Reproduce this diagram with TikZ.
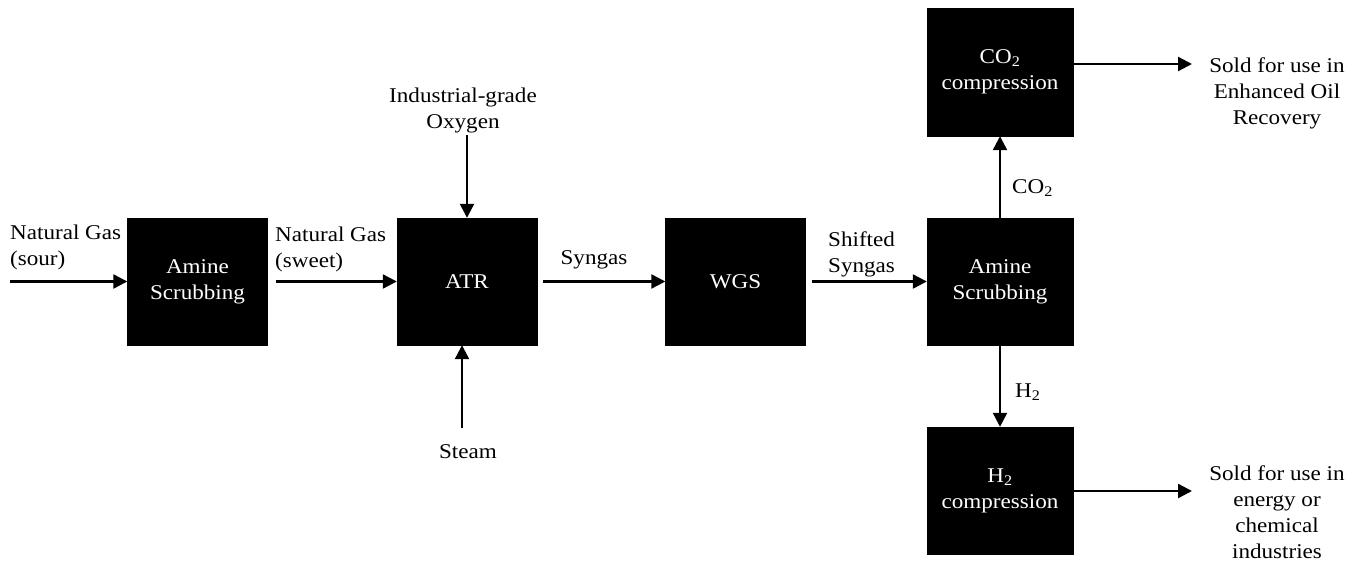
\documentclass[tikz,border=0pt]{standalone}
\usepackage{fontspec}
\setmainfont{Liberation Serif}[FakeStretch=1.1]
\usetikzlibrary{arrows.meta}

\tikzset{
  unit/.style={rectangle, fill=black, draw=black, text=white, align=center,
    minimum width=140pt, minimum height=127pt, inner sep=0pt},
  flow/.style={line width=2.3pt, -{Triangle[length=14pt,width=14pt]}},
  lbl/.style={inner sep=0pt},
}

\begin{document}
\begin{tikzpicture}[x=1pt, y=-1pt, font=\fontsize{21}{26}\selectfont]
  \useasboundingbox (0,0) rectangle (1371,562);

  \node[unit] (amineA) at (197.5, 281.5) {Amine\\Scrubbing};
  \node[unit] (atr) at (467, 281.5) {ATR};
  \node[unit] (wgs) at (735.5, 281.5) {WGS};
  \node[unit, minimum width=146pt] (amineB) at (1000, 281.5) {Amine\\Scrubbing};
  \node[unit, minimum width=146pt, minimum height=128pt] (cocomp) at (1000, 72) {CO\textsubscript{2}\\compression};
  \node[unit, minimum width=146pt] (hcomp) at (1000, 490.5) {H\textsubscript{2}\\compression};

  \node[lbl, align=left, anchor=south west] (sour) at (10, 270) {Natural Gas\\(sour)};
  \node[lbl, align=left, anchor=south west] (sweet) at (275, 272) {Natural Gas\\(sweet)};
  \node[lbl, anchor=base] (syngas) at (594, 264) {Syngas};
  \node[lbl, align=left, anchor=south west] (shifted) at (828, 277) {Shifted\\Syngas};
  \node[lbl, align=center, anchor=south] (oxygen) at (463, 133) {Industrial-grade\\Oxygen};
  \node[lbl, anchor=base] (steam) at (468, 458) {Steam};
  \node[lbl, anchor=base west] (co) at (1012, 193) {CO\textsubscript{2}};
  \node[lbl, anchor=base west] (hh) at (1015, 397) {H\textsubscript{2}};
  \node[lbl, align=center] (eor) at (1277, 93) {Sold for use in\\Enhanced Oil\\Recovery};
  \node[lbl, align=center] (ind) at (1277, 512) {Sold for use in\\energy or\\chemical\\industries};

  \coordinate (sourin) at (10, 281.5);
  \coordinate (oxyin) at (467, 135);
  \coordinate (steamin) at (462, 428);
  \coordinate (eorin) at (1192, 64);
  \coordinate (indin) at (1192, 491);

  \draw[flow] (sourin) -- (amineA);
  \draw[flow, shorten <=8pt] (amineA) -- (atr);
  \draw[flow, shorten <=6pt] (atr) -- (wgs);
  \draw[flow, shorten <=6pt] (wgs) -- (amineB);
  \draw[flow] (oxyin) -- (atr);
  \draw[flow] (steamin) -- (steamin |- atr.south);
  \draw[flow] (amineB) -- (cocomp);
  \draw[flow] (amineB) -- (hcomp);
  \draw[flow] (cocomp.east |- eorin) -- (eorin);
  \draw[flow] (hcomp.east |- indin) -- (indin);
\end{tikzpicture}
\end{document}
